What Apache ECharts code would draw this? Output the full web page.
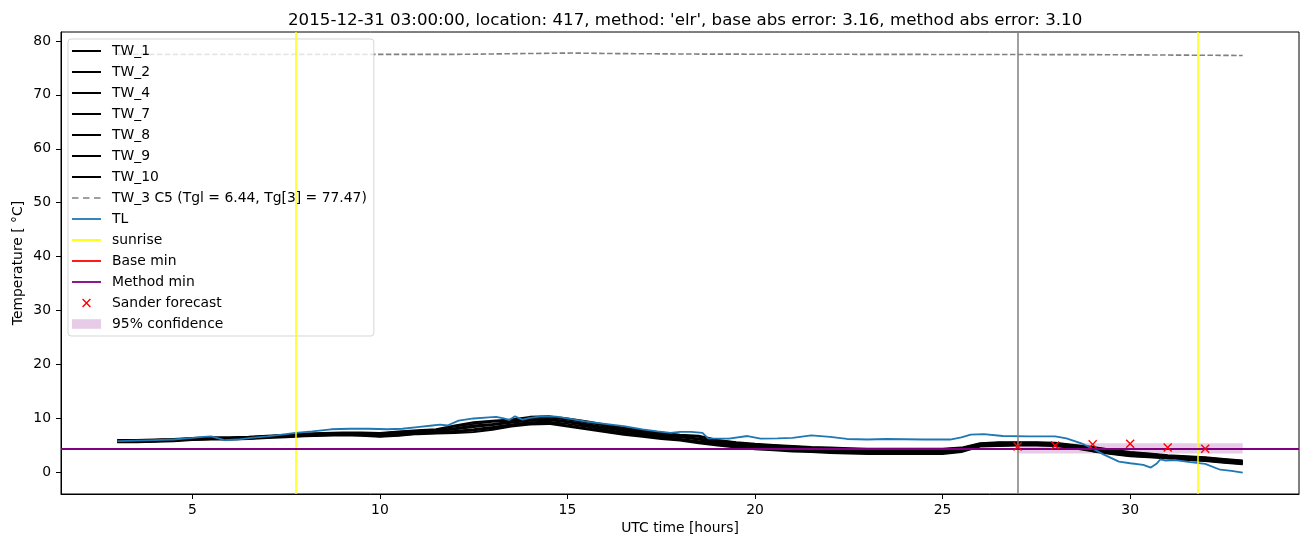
<!DOCTYPE html>
<html>
<head>
<meta charset="utf-8">
<script src="https://cdn.jsdelivr.net/npm/echarts@6/dist/echarts.min.js"></script>
<style>
html,body{margin:0;padding:0;background:#fff;}
#chart{width:1310px;height:547px;}
</style>
</head>
<body>
<div id="chart"></div>
<script>
// ---------- data ----------
const titleText = "2015-12-31 03:00:00, location: 417, method: 'elr', base abs error: 3.16, method abs error: 3.10";
const xTicks = [5, 10, 15, 20, 25, 30];
const yTicks = [0, 10, 20, 30, 40, 50, 60, 70, 80];

const hours = [3,3.5,4,4.5,5,5.5,6,6.5,7,7.5,8,8.5,9,9.5,10,10.5,11,11.5,12,12.5,13,13.5,14,14.5,15,15.5,16,16.5,17,17.5,18,18.5,19,19.5,20,20.5,21,21.5,22,22.5,23,23.5,24,24.5,25,25.5,26,26.5,27,27.5,28,28.5,29,29.5,30,30.5,31,31.5,32,32.5,33];

const TW_1 = [6.0,6.0,6.1,6.2,6.4,6.5,6.5,6.6,6.8,7.0, 7.2,7.3,7.4,7.4,7.3,7.6,7.8,8.0,8.7,9.3, 9.6,9.8,10.3,10.4,10.0,9.5,8.9,8.3,7.8,7.4, 7.0,6.8,6.0,5.6,5.3,5.1,4.9,4.7,4.6,4.5, 4.4,4.4,4.4,4.4,4.4,4.6,5.4,5.6,5.6,5.6, 5.5,5.1,4.7,4.2,3.8,3.5,3.2,3.0,2.8,2.5,2.2];
const TW_2 = [5.6,5.6,5.7,5.8,6.0,6.1,6.1,6.2,6.4,6.5, 6.7,6.8,6.9,6.8,6.6,6.8,7.1,7.2,7.3,7.5, 7.9,8.5,8.9,9.0,8.5,8.0,7.5,7.0,6.6,6.2, 5.9,5.4,5.0,4.6,4.3,4.1,3.9,3.8,3.6,3.5, 3.4,3.4,3.4,3.4,3.4,3.8,4.8,4.9,5.0,5.0, 4.9,4.5,3.9,3.4,3.0,2.8,2.6,2.3,2.1,1.8,1.5];
const TW_4 = [5.8,5.8,5.9,6.0,6.2,6.3,6.3,6.4,6.6,6.8, 7.0,7.1,7.2,7.1,7.0,7.2,7.5,7.6,8.0,8.4, 8.8,9.2,9.6,9.7,9.3,8.8,8.2,7.7,7.2,6.8, 6.5,6.1,5.5,5.1,4.8,4.6,4.4,4.3,4.1,4.0, 3.9,3.9,3.9,3.9,3.9,4.2,5.1,5.3,5.3,5.3, 5.2,4.8,4.3,3.8,3.4,3.2,2.9,2.7,2.5,2.2,1.9];
const TW_7 = [5.9,5.9,6.0,6.1,6.3,6.4,6.4,6.5,6.7,6.9, 7.1,7.2,7.3,7.3,7.2,7.5,7.7,7.9,8.5,9.0, 9.4,9.6,10.1,10.2,9.8,9.3,8.7,8.1,7.6,7.2, 6.8,6.6,5.9,5.5,5.2,5.0,4.8,4.6,4.5,4.4, 4.3,4.3,4.2,4.3,4.3,4.5,5.3,5.5,5.5,5.5, 5.4,5.0,4.6,4.1,3.7,3.4,3.1,2.9,2.7,2.4,2.1];
const TW_8 = [5.7,5.7,5.8,5.9,6.1,6.2,6.2,6.3,6.5,6.7, 6.9,7.0,7.1,7.0,6.8,7.0,7.3,7.4,7.7,8.0, 8.4,8.9,9.3,9.4,9.0,8.5,7.9,7.4,7.0,6.6, 6.2,5.8,5.3,4.9,4.6,4.4,4.2,4.1,3.9,3.8, 3.7,3.7,3.7,3.7,3.7,4.0,5.0,5.1,5.2,5.2, 5.1,4.7,4.1,3.6,3.2,3.0,2.8,2.5,2.3,2.0,1.7];
const TW_9 = [5.9,5.9,6.0,6.1,6.3,6.4,6.4,6.5,6.7,6.8, 7.0,7.1,7.2,7.2,7.1,7.3,7.6,7.7,8.2,8.7, 9.0,9.4,9.8,9.9,9.5,9.0,8.4,7.9,7.4,7.0, 6.6,6.3,5.7,5.3,5.0,4.8,4.6,4.4,4.3,4.2, 4.0,4.1,4.0,4.0,4.1,4.3,5.2,5.4,5.4,5.4, 5.3,4.9,4.4,3.9,3.5,3.3,3.0,2.8,2.6,2.3,2.0];
const TW_10 = [5.7,5.7,5.8,5.9,6.1,6.2,6.2,6.3,6.5,6.6, 6.8,6.9,7.0,6.9,6.7,6.9,7.2,7.3,7.5,7.8, 8.2,8.7,9.1,9.2,8.7,8.2,7.7,7.2,6.8,6.4, 6.1,5.6,5.2,4.8,4.5,4.3,4.1,3.9,3.8,3.7, 3.6,3.5,3.5,3.5,3.6,3.9,4.9,5.0,5.1,5.1, 5.0,4.6,4.0,3.5,3.1,2.9,2.7,2.4,2.2,1.9,1.6];

const tw3Hours  = [3, 12.05, 12.1, 15.1, 15.15, 16.3, 16.35, 18.6, 18.65, 29.1, 29.15, 33];
const tw3Values = [77.5, 77.5, 77.75, 77.75, 77.65, 77.65, 77.55, 77.55, 77.45, 77.45, 77.3, 77.3];

const tlHours  = [3,3.5,4,4.5,5,5.3,5.5,5.7,5.85,6.2,6.55,7,7.5,7.75,8.2,8.7,9.2,9.7,10.2,10.6,11,11.4,11.6,11.8,12.1,12.5,12.9,13.1,13.3,13.45,13.6,13.8,14,14.3,14.7,15,15.5,16,16.5,17,17.4,17.75,18,18.3,18.6,18.75,19.3,19.8,20.15,20.6,21,21.5,22,22.45,23,23.5,24,24.5,25.2,25.5,25.75,26.1,26.6,27.3,28,28.3,28.7,29,29.3,29.7,30,30.35,30.55,30.7,30.8,30.95,31.2,31.6,32,32.4,32.7,33];
const tlValues = [5.8,5.9,6.0,6.1,6.4,6.6,6.7,6.3,6.0,6.1,6.4,6.7,7.1,7.35,7.6,8.0,8.1,8.1,8.0,8.1,8.4,8.7,8.85,8.7,9.6,10.0,10.2,10.3,10.0,9.7,10.4,9.8,10.1,10.4,10.35,10.0,9.4,9.0,8.6,8.0,7.6,7.35,7.5,7.5,7.35,6.3,6.25,6.75,6.25,6.3,6.4,6.85,6.6,6.2,6.1,6.2,6.15,6.1,6.1,6.5,7.0,7.1,6.75,6.7,6.7,6.3,5.4,4.4,3.3,2.0,1.7,1.4,0.9,1.6,2.4,2.2,2.3,1.9,1.6,0.5,0.3,-0.05];

const sunriseHours = [7.77, 31.81];
const forecastHour = 27;
const baseMin = 4.45;
const methodMin = 4.45;
const sanderHours  = [27, 28, 29, 30, 31, 32];
const sanderValues = [4.8, 5.0, 5.2, 5.3, 4.6, 4.4];
const confStart = 27, confEnd = 33, confLow = 3.5, confHigh = 5.4;

// ---------- chart ----------
const pairs = (xs, ys) => xs.map((x, i) => [x, ys[i]]);
const FONT = 'DejaVu Sans';
const FS = 13.9;
const xPath = 'path://M0,1.1L1.1,0L5,3.9L8.9,0L10,1.1L6.1,5L10,8.9L8.9,10L5,6.1L1.1,10L0,8.9L3.9,5Z';
const xLegendPath = 'path://M0,0M29,14M10.1,3.6L11.1,2.6L14.5,6L17.9,2.6L18.9,3.6L15.5,7L18.9,10.4L17.9,11.4L14.5,8L11.1,11.4L10.1,10.4L13.5,7Z';
const rectLegendPath = 'path://M0,0M29,14M0,2.2L29,2.2L29,11.8L0,11.8Z';
const solidIcon = w => 'path://M0,0M29,14M0,' + (7 - w / 2) + 'L29,' + (7 - w / 2) + 'L29,' + (7 + w / 2) + 'L0,' + (7 + w / 2) + 'Z';
const dashIcon = 'path://M0,0M29,14M0,6.25L6.5,6.25L6.5,7.75L0,7.75ZM11,6.25L17.5,6.25L17.5,7.75L11,7.75ZM22,6.25L28.5,6.25L28.5,7.75L22,7.75Z';

const twSeries = [['TW_1', TW_1], ['TW_2', TW_2], ['TW_4', TW_4], ['TW_7', TW_7], ['TW_8', TW_8], ['TW_9', TW_9], ['TW_10', TW_10]].map(([n, arr]) => ({
  name: n, type: 'line', data: pairs(hours, arr), symbol: 'none',
  lineStyle: { color: '#000', width: 2 }, itemStyle: { color: '#000' }
}));

const tw3Name = 'TW_3 C5 (Tgl = 6.44, Tg[3] = 77.47)';

const series = twSeries.concat([
  { name: tw3Name, type: 'line', data: pairs(tw3Hours, tw3Values), symbol: 'none',
    lineStyle: { color: '#808080', width: 1.6, type: [5.5, 2.4] }, itemStyle: { color: '#808080' } },
  { name: 'TL', type: 'line', data: pairs(tlHours, tlValues), symbol: 'none',
    lineStyle: { color: '#1f77b4', width: 1.8 }, itemStyle: { color: '#1f77b4' } },
  { name: 'sunrise', type: 'line', data: [], symbol: 'none',
    lineStyle: { color: '#ffff00', width: 1.5 }, itemStyle: { color: '#ffff00' },
    markLine: { silent: true, symbol: ['none', 'none'], label: { show: false },
      lineStyle: { color: '#ffff00', width: 1.5, type: 'solid' },
      data: sunriseHours.map(h => ({ xAxis: h })) } },
  { name: 'forecast', type: 'line', data: [], symbol: 'none',
    markLine: { silent: true, symbol: ['none', 'none'], label: { show: false },
      lineStyle: { color: '#808080', width: 1.5, type: 'solid' },
      data: [{ xAxis: forecastHour }] } },
  { name: 'Base min', type: 'line', data: [], symbol: 'none',
    lineStyle: { color: '#ff0000', width: 1.5 }, itemStyle: { color: '#ff0000' },
    markLine: { silent: true, symbol: ['none', 'none'], label: { show: false },
      lineStyle: { color: '#ff0000', width: 1.5, type: 'solid' },
      data: [{ yAxis: baseMin }] } },
  { name: 'Method min', type: 'line', data: [], symbol: 'none',
    lineStyle: { color: '#800080', width: 1.5 }, itemStyle: { color: '#800080' },
    markLine: { silent: true, symbol: ['none', 'none'], label: { show: false },
      lineStyle: { color: '#800080', width: 1.8, type: 'solid' },
      data: [{ yAxis: methodMin }] } },
  { name: 'Sander forecast', type: 'scatter', data: pairs(sanderHours, sanderValues),
    symbol: xPath, symbolSize: 9, itemStyle: { color: '#ff0000', opacity: 1 }, z: 5 },
  { name: '95% confidence', type: 'line', data: [], symbol: 'none',
    itemStyle: { color: 'rgba(128,0,128,0.2)' }, lineStyle: { width: 0 },
    markArea: { silent: true, itemStyle: { color: 'rgba(128,0,128,0.2)' },
      data: [[{ coord: [confStart, confHigh] }, { coord: [confEnd, confLow] }]] } }
]);

const legendData = [
  { name: 'TW_1', icon: solidIcon(2), itemStyle: { color: '#000' } },
  { name: 'TW_2', icon: solidIcon(2), itemStyle: { color: '#000' } },
  { name: 'TW_4', icon: solidIcon(2), itemStyle: { color: '#000' } },
  { name: 'TW_7', icon: solidIcon(2), itemStyle: { color: '#000' } },
  { name: 'TW_8', icon: solidIcon(2), itemStyle: { color: '#000' } },
  { name: 'TW_9', icon: solidIcon(2), itemStyle: { color: '#000' } },
  { name: 'TW_10', icon: solidIcon(2), itemStyle: { color: '#000' } },
  { name: tw3Name, icon: dashIcon, itemStyle: { color: '#808080' } },
  { name: 'TL', icon: solidIcon(1.8), itemStyle: { color: '#1f77b4' } },
  { name: 'sunrise', icon: solidIcon(1.8), itemStyle: { color: '#ffff00' } },
  { name: 'Base min', icon: solidIcon(1.8), itemStyle: { color: '#ff0000' } },
  { name: 'Method min', icon: solidIcon(1.8), itemStyle: { color: '#800080' } },
  { name: 'Sander forecast', icon: xLegendPath, itemStyle: { color: '#ff0000' } },
  { name: '95% confidence', icon: rectLegendPath, itemStyle: { color: 'rgba(128,0,128,0.2)' } }
];

const chart = echarts.init(document.getElementById('chart'), null, { renderer: 'canvas' });
chart.setOption({
  animation: false,
  backgroundColor: '#fff',
  textStyle: { fontFamily: FONT },
  title: { text: titleText, left: 283, top: 7,
    textStyle: { fontFamily: FONT, fontSize: 16.67, fontWeight: 'normal', color: '#000' } },
  grid: { left: 61, right: 11, top: 32, bottom: 53, show: true, borderColor: '#000', borderWidth: 1, backgroundColor: 'transparent' },
  legend: {
    data: legendData, orient: 'vertical', left: 68, top: 39,
    itemWidth: 29, itemHeight: 14, itemGap: 7,
    padding: [5, 7, 5, 4],
    backgroundColor: 'rgba(255,255,255,0.8)', borderColor: 'rgba(204,204,204,0.8)', borderWidth: 1, borderRadius: 3,
    selectedMode: false,
    textStyle: { fontFamily: FONT, fontSize: FS, color: '#000', lineHeight: 14, padding: [0, 0, 0, 6] }
  },
  xAxis: {
    type: 'value', min: 1.5, max: 34.5,
    name: 'UTC time [hours]', nameLocation: 'middle', nameGap: 27, nameMoveOverlap: false,
    nameTextStyle: { fontFamily: FONT, fontSize: FS, color: '#000' },
    axisLine: { show: true, onZero: false, lineStyle: { color: '#000', width: 1 } },
    axisTick: { show: true, inside: false, length: 5, lineStyle: { color: '#000' }, customValues: xTicks },
    axisLabel: { fontFamily: FONT, fontSize: FS, color: '#000', margin: 9, customValues: xTicks },
    splitLine: { show: false }
  },
  yAxis: {
    type: 'value', min: -4.0, max: 81.65,
    name: 'Temperature [ °C]', nameLocation: 'middle', nameGap: 36, nameRotate: 90, nameMoveOverlap: false,
    nameTextStyle: { fontFamily: FONT, fontSize: FS, color: '#000' },
    axisLine: { show: true, onZero: false, lineStyle: { color: '#000', width: 1 } },
    axisTick: { show: true, inside: false, length: 5, lineStyle: { color: '#000' }, customValues: yTicks },
    axisLabel: { fontFamily: FONT, fontSize: FS, color: '#000', margin: 10, customValues: yTicks },
    splitLine: { show: false }
  },
  series: series
});
</script>
</body>
</html>
